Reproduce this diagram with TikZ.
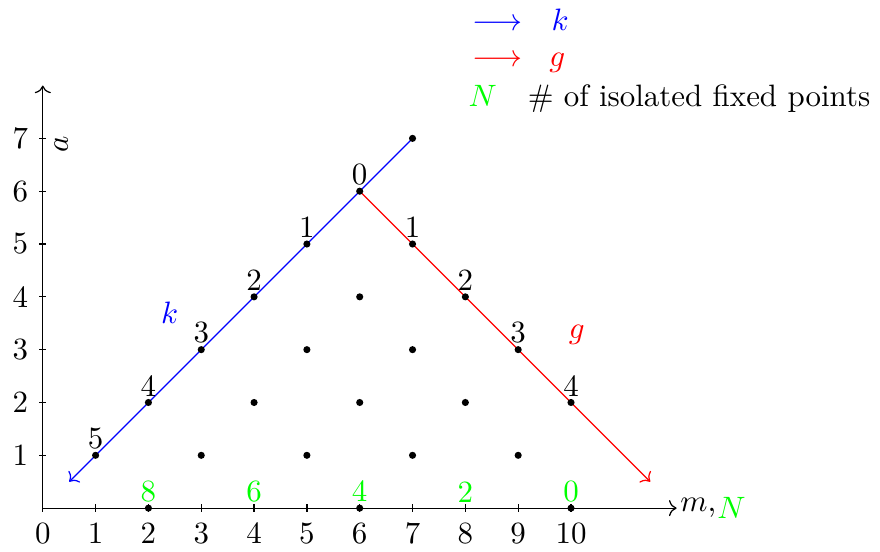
\documentclass[tikz,border=0pt]{standalone}
\usepackage{tikz}
\usetikzlibrary{arrows.meta}

\begin{document}
\begin{tikzpicture}[
			x=0.6cm,y=0.6cm,
			axis/.style={-{To},draw=black,line width=0.4pt},
			tick/.style={draw=black,line width=0.4pt},
			kline/.style={-{To},draw=blue,line width=0.4pt},
			gline/.style={-{To},draw=red,line width=0.4pt},
			dot/.style={circle,fill=black,inner sep=0pt,minimum size=2.3pt},
			num/.style={inner sep=0.5pt},
			leg/.style={anchor=base west,inner sep=0pt}]
			\useasboundingbox (-0.81,-0.83) rectangle (15.85,9.62);
			% axes
			\coordinate (o) at (0,0);
			\coordinate (xend) at (12,0);
			\coordinate (yend) at (0,8);
			\draw[axis] (o)--(xend);
			\draw[axis] (o)--(yend);
			\foreach \x in {0,...,10}
				\draw[tick] (\x,-0.07)--(\x,0.07) node[below,pos=0] (tx\x) {\x};
			\foreach \y in {1,...,7}
				\draw[tick] (-0.07,\y)--(0.07,\y) node[left,pos=0] (ty\y) {\y};
			\node[right,inner sep=1pt] (mlab) at (xend) {$m$,};
			\node[anchor=north west,inner sep=1pt,xshift=-2pt,yshift=0.5pt,text=green] (Nlab) at (mlab.north east) {$N$};
			\node[rotate=90] (alab) at (0.35,6.88) {$a$};
			% ends of the two lines
			\coordinate (kend) at (0.5,0.5);
			\coordinate (gend) at (11.5,0.5);
			\coordinate (ktop) at (7,7);
			\coordinate (gtop) at (6,6);
			\draw[kline] (ktop)--(kend);
			\draw[gline] (gtop)--(gend);
			% points on k
			\node[dot,label={[num]above:5}] (p1-1) at (1,1) {};
			\node[dot,label={[num]above:4}] (p2-2) at (2,2) {};
			\node[dot,label={[num]above:3}] (p3-3) at (3,3) {};
			\node[dot,label={[num]above:2}] (p4-4) at (4,4) {};
			\node[dot,label={[num]above:1}] (p5-5) at (5,5) {};
			\node[dot,label={[num]above:0}] (p6-6) at (6,6) {};
			\node[dot] (p7-7) at (7,7) {};
			% points on g
			\node[dot,label={[num]above:1}] (p7-5) at (7,5) {};
			\node[dot,label={[num]above:2}] (p8-4) at (8,4) {};
			\node[dot,label={[num]above:3}] (p9-3) at (9,3) {};
			\node[dot,label={[num]above:4}] (p10-2) at (10,2) {};
			% inner points
			\node[dot] (p6-4) at (6,4) {};
			\node[dot] (p5-3) at (5,3) {};
			\node[dot] (p7-3) at (7,3) {};
			\node[dot] (p4-2) at (4,2) {};
			\node[dot] (p6-2) at (6,2) {};
			\node[dot] (p8-2) at (8,2) {};
			\node[dot] (p3-1) at (3,1) {};
			\node[dot] (p5-1) at (5,1) {};
			\node[dot] (p7-1) at (7,1) {};
			\node[dot] (p9-1) at (9,1) {};
			% points on the m axis
			\node[dot,label={[num,text=green]above:8}] (p2-0) at (2,0) {};
			\node[num,text=green,above=1.15pt] (n4-0) at (4,0) {6};
			\node[dot,label={[num,text=green]above:4}] (p6-0) at (6,0) {};
			\node[num,text=green,above=1.15pt] (n8-0) at (8,0) {2};
			\node[dot,label={[num,text=green]above:0}] (p10-0) at (10,0) {};
			% line labels
			\node[text=blue] (klab) at (2.4,3.69) {$k$};
			\node[text=red] (glab) at (10.11,3.28) {$g$};
			% legend
			\node[leg,text=blue] (legk) at (8.12,9.04) {$\longrightarrow$};
			\node[leg,text=blue] (legkt) at (9.62,9.04) {$k$};
			\node[leg,text=red] (legg) at (8.12,8.36) {$\longrightarrow$};
			\node[leg,text=red] (leggt) at (9.58,8.36) {$g$};
			\node[leg,text=green] (legN) at (8.05,7.60) {$N$};
			\node[leg] (legNt) at (9.17,7.60) {\# of isolated fixed points};
		\end{tikzpicture}
\end{document}
